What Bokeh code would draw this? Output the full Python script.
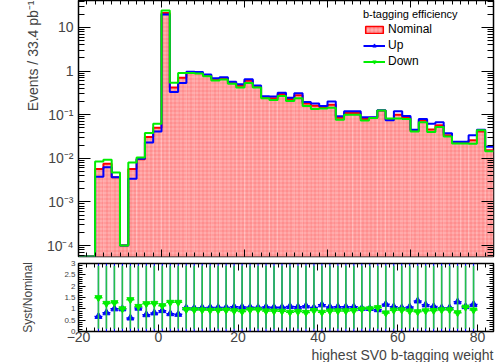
import numpy as np
from bokeh.plotting import figure
from bokeh.models import (ColumnDataSource, FixedTicker, CustomJSTickFormatter, LinearAxis,
                          LogAxis, Legend, LegendItem, Range1d, Title)
from bokeh.layouts import column
from bokeh.embed import file_html
from bokeh.resources import INLINE

# ---------------- data (bins of width 2 from -20 to 80) ----------------
bin_edges = list(range(-20, 82, 2))

nominal = [0, 0,
           0.0057, 0.0075, 0.0037, 0.0001, 0.0057, 0.0095, 0.031, 0.050,
           21.5, 0.42, 0.70, 0.93, 0.92, 0.80, 0.65, 0.68, 0.54, 0.46,
           0.60, 0.44, 0.25, 0.24, 0.30, 0.23, 0.28, 0.18, 0.16, 0.15,
           0.17, 0.085, 0.11, 0.11, 0.080, 0.085, 0.125, 0.078, 0.10, 0.085,
           0.043, 0.074, 0.046, 0.057, 0.034, 0.023, 0.023, 0.026, 0.041, 0.0153]

up = [0, 0,
      0.0038, 0.0062, 0.0037, 0.0001, 0.0034, 0.0098, 0.023, 0.041,
      19.8, 0.33, 0.53, 0.97, 0.95, 0.84, 0.69, 0.72, 0.57, 0.50,
      0.65, 0.47, 0.265, 0.26, 0.32, 0.246, 0.31, 0.196, 0.18, 0.158,
      0.20, 0.092, 0.12, 0.12, 0.087, 0.087, 0.127, 0.075, 0.12, 0.093,
      0.045, 0.080, 0.062, 0.067, 0.0375, 0.024, 0.024, 0.034, 0.045, 0.0183]

down = [0, 0,
        0.0085, 0.0093, 0.0047, 0.0001, 0.0080, 0.0105, 0.038, 0.062,
        24.5, 0.54, 0.90, 0.90, 0.88, 0.76, 0.61, 0.64, 0.51, 0.42,
        0.53, 0.42, 0.24, 0.218, 0.27, 0.206, 0.238, 0.158, 0.135, 0.139,
        0.144, 0.077, 0.10, 0.10, 0.074, 0.084, 0.125, 0.082, 0.082, 0.080,
        0.041, 0.067, 0.040, 0.052, 0.0315, 0.022, 0.022, 0.0215, 0.044, 0.0145]

y_ticks_main = [1e-4, 1e-3, 1e-2, 1e-1, 1, 10]
x_ticks = [-20, 0, 20, 40, 60, 80]
ratio_ticks = [0, 0.5, 1, 1.5, 2, 2.5, 3]

FONT = "Liberation Sans"
Y_MIN, Y_MAX = 5.6e-5, 41.6
FILL = "#ffacac"
HATCH = dict(hatch_pattern="+", hatch_color="#ff2020", hatch_alpha=0.4, hatch_scale=4, hatch_weight=0.6)

lo = np.array(bin_edges[:-1], dtype=float)
hi = np.array(bin_edges[1:], dtype=float)
nom = np.array(nominal, dtype=float)
upa = np.array(up, dtype=float)
dna = np.array(down, dtype=float)


def clip(v):
    return np.where(v > 0, v, Y_MIN)


def step_xy(v):
    vv = clip(v)
    return list(bin_edges), list(vv) + [vv[-1]]


sup_js = r"""
const e = Math.round(Math.log10(tick));
if (e == 0) return "1";
if (e == 1) return "10";
const sup = {"-":"\u207b","0":"\u2070","1":"\u00b9","2":"\u00b2","3":"\u00b3","4":"\u2074","5":"\u2075","6":"\u2076","7":"\u2077","8":"\u2078","9":"\u2079"};
return "10" + String(e).split("").map(c => sup[c]).join("");
"""
empty_fmt = CustomJSTickFormatter(code="return ''")

minor_log = []
for d in range(-5, 2):
    for m in range(2, 10):
        minor_log.append(m * 10.0 ** d)

# ---------------- main panel ----------------
p = figure(width=495, height=258, y_axis_type="log",
           x_range=Range1d(-20, 80), y_range=Range1d(Y_MIN, Y_MAX),
           output_backend="svg", toolbar_location=None,
           min_border_left=78, min_border_right=2, min_border_top=0, min_border_bottom=2)
p.grid.visible = False
p.outline_line_color = "black"
p.outline_line_width = 1.5

src_nom = ColumnDataSource(dict(left=lo, right=hi, top=clip(nom), bottom=np.full(len(lo), 1e-9)))
p.quad(left="left", right="right", top="top", bottom="bottom", source=src_nom,
       fill_color=FILL, line_color=None, **HATCH)
xs, ys = step_xy(nom)
p.step(xs, ys, mode="after", line_color="#ff0000", line_width=2)
xs, ys = step_xy(upa)
r_up = p.step(xs, ys, mode="after", line_color="#0000ff", line_width=2)
xs, ys = step_xy(dna)
r_dn = p.step(xs, ys, mode="after", line_color="#00ee00", line_width=2)

# legend samples (NaN positions: nothing drawn in the plot area)
leg_nom = p.quad(left=[np.nan], right=[np.nan], top=[np.nan], bottom=[np.nan],
                 fill_color=FILL, line_color="#ff0000", line_width=1.5, **HATCH)
leg_up_m = p.scatter(x=[np.nan], y=[np.nan], marker="triangle", size=6, color="#0000ff")
leg_dn_m = p.scatter(x=[np.nan], y=[np.nan], marker="inverted_triangle", size=6, color="#00ee00")

legend = Legend(items=[LegendItem(label="Nominal", renderers=[leg_nom]),
                       LegendItem(label="Up", renderers=[r_up, leg_up_m]),
                       LegendItem(label="Down", renderers=[r_dn, leg_dn_m])],
                title="b-tagging efficiency", location=(283, 186),
                title_text_font=FONT, title_text_font_size="11px", title_text_font_style="normal",
                title_text_color="black",
                label_text_font=FONT, label_text_font_size="12px", label_text_color="black",
                glyph_width=22, glyph_height=9, label_height=10, spacing=2,
                padding=2, margin=0, title_standoff=2, label_standoff=3,
                background_fill_alpha=0, border_line_alpha=0)
p.add_layout(legend)

for ax in p.yaxis:
    ax.ticker = FixedTicker(ticks=y_ticks_main, minor_ticks=minor_log)
    ax.formatter = CustomJSTickFormatter(code=sup_js)
    ax.major_label_text_font = FONT
    ax.major_label_text_font_size = "14px"
    ax.major_tick_in = 12
    ax.major_tick_out = 0
    ax.minor_tick_in = 6
    ax.minor_tick_out = 0
    ax.axis_line_color = None
    ax.major_label_standoff = 5

p.add_layout(Title(text="Events / 33.4 pb\u207b\u00b9", align="right", text_font=FONT,
                   text_font_size="14px", text_font_style="normal", standoff=6), "left")

for ax in p.xaxis:
    ax.ticker = FixedTicker(ticks=x_ticks, minor_ticks=list(range(-20, 81, 2)))
    ax.formatter = empty_fmt
    ax.major_tick_in = 7
    ax.major_tick_out = 0
    ax.minor_tick_in = 4
    ax.minor_tick_out = 0
    ax.axis_line_color = None
    ax.major_label_standoff = 0
    ax.major_label_text_font_size = "1px"

p.add_layout(LogAxis(ticker=FixedTicker(ticks=y_ticks_main, minor_ticks=minor_log),
                     formatter=empty_fmt, major_tick_in=12, major_tick_out=0,
                     minor_tick_in=6, minor_tick_out=0, axis_line_color=None,
                     major_label_standoff=0, major_label_text_font_size="1px"), "right")
p.add_layout(LinearAxis(ticker=FixedTicker(ticks=x_ticks, minor_ticks=list(range(-20, 81, 2))),
                        formatter=empty_fmt, major_tick_in=7, major_tick_out=0,
                        minor_tick_in=4, minor_tick_out=0, axis_line_color=None,
                        major_label_standoff=0, major_label_text_font_size="1px"), "above")

# ---------------- ratio panel ----------------
centers = (lo + hi) / 2.0
mask = nom > 0
r_up_ratio = upa[mask] / nom[mask]
r_dn_ratio = dna[mask] / nom[mask]
c = centers[mask]
l = lo[mask]
h = hi[mask]

q = figure(width=495, height=104, x_range=Range1d(-20, 84), y_range=Range1d(0, 3),
           output_backend="svg", toolbar_location=None,
           min_border_left=78, min_border_right=2, min_border_top=5, min_border_bottom=0)
q.grid.visible = False
q.outline_line_color = "black"
q.outline_line_width = 1.5

# error bars exceed the displayed range: drawn across the full panel height
q.segment(x0=c, x1=c, y0=np.zeros(len(c)), y1=np.full(len(c), 3.0), line_color="#0000ff", line_width=1.2)
q.segment(x0=l, x1=h, y0=r_up_ratio, y1=r_up_ratio, line_color="#0000ff", line_width=1.5)
q.scatter(c, r_up_ratio, marker="triangle", size=7, color="#0000ff")
q.segment(x0=c, x1=c, y0=np.full(len(c), 0.12), y1=np.full(len(c), 2.9),
          line_color="#22c04a", line_width=1.6)
q.segment(x0=l, x1=h, y0=r_dn_ratio, y1=r_dn_ratio, line_color="#00ee00", line_width=1.5)
q.scatter(c, r_dn_ratio, marker="inverted_triangle", size=7, color="#00ee00")

minor_r = [round(0.1 * i, 1) for i in range(0, 31)]
for ax in q.yaxis:
    ax.ticker = FixedTicker(ticks=ratio_ticks, minor_ticks=minor_r)
    ax.formatter = CustomJSTickFormatter(code="return String(tick)")
    ax.major_label_text_font = FONT
    ax.major_label_text_font_size = "8px"
    ax.major_tick_in = 7
    ax.major_tick_out = 0
    ax.minor_tick_in = 4
    ax.minor_tick_out = 0
    ax.axis_line_color = None
    ax.major_label_standoff = 3
    ax.axis_label = "Syst/Nominal"
    ax.axis_label_text_font = FONT
    ax.axis_label_text_font_size = "12px"
    ax.axis_label_text_font_style = "normal"
    ax.axis_label_standoff = 26

for ax in q.xaxis:
    ax.ticker = FixedTicker(ticks=x_ticks, minor_ticks=list(range(-20, 85, 2)))
    ax.major_label_text_font = FONT
    ax.major_label_text_font_size = "14px"
    ax.major_tick_in = 7
    ax.major_tick_out = 0
    ax.minor_tick_in = 4
    ax.minor_tick_out = 0
    ax.axis_line_color = None
    ax.major_label_standoff = 0

q.add_layout(LinearAxis(ticker=FixedTicker(ticks=x_ticks, minor_ticks=list(range(-20, 85, 2))),
                        formatter=empty_fmt, major_tick_in=7, major_tick_out=0,
                        minor_tick_in=4, minor_tick_out=0, axis_line_color=None,
                        major_label_standoff=0, major_label_text_font_size="1px"), "above")
q.add_layout(LinearAxis(ticker=FixedTicker(ticks=ratio_ticks, minor_ticks=minor_r),
                        formatter=empty_fmt, major_tick_in=7, major_tick_out=0,
                        minor_tick_in=4, minor_tick_out=0, axis_line_color=None,
                        major_label_standoff=0, major_label_text_font_size="1px"), "right")
q.add_layout(Title(text="highest SV0 b-tagging weight", align="right", text_font=FONT,
                   text_font_size="14px", text_font_style="normal", standoff=0, offset=0), "below")

layout = column(p, q, spacing=0)
open("out.html", "w", encoding="utf-8").write(file_html(layout, INLINE))
